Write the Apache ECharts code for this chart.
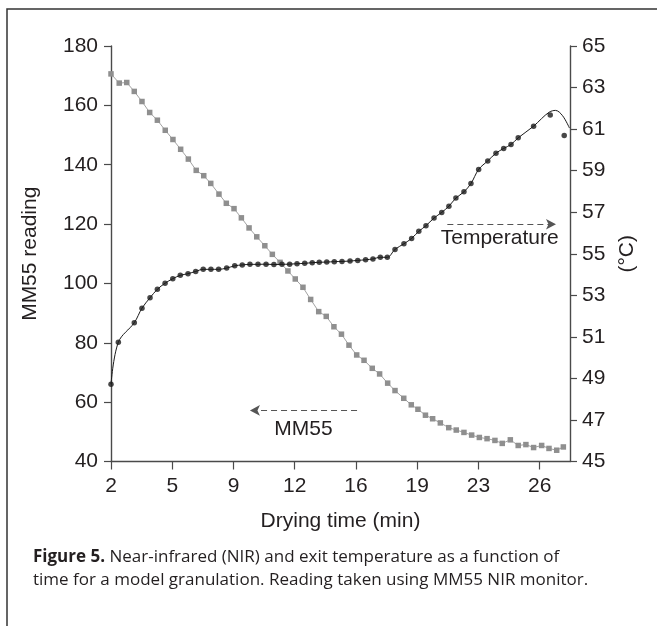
<!DOCTYPE html>
<html>
<head>
<meta charset="utf-8">
<script src="https://cdn.jsdelivr.net/npm/echarts@6/dist/echarts.min.js"></script>
<style>html,body{margin:0;padding:0;background:#fff}#c{width:657px;height:629px}</style>
</head>
<body>
<div id="c"></div>
<script>
// ---- data ----
const xTickValues = [2, 5.5, 9, 12.5, 16, 19.5, 23, 26.5];
const mmTime = [2.00,2.47,2.90,3.33,3.77,4.21,4.65,5.10,5.54,5.98,6.42,6.87,7.30,7.70,8.17,8.59,9.03,9.45,9.89,10.33,10.79,11.22,11.66,12.11,12.53,12.97,13.41,13.87,14.30,14.74,15.17,15.60,16.04,16.46,16.93,17.35,17.81,18.23,18.73,19.16,19.54,19.97,20.38,20.82,21.30,21.73,22.17,22.61,23.05,23.49,23.94,24.36,24.82,25.27,25.71,26.15,26.61,27.03,27.47,27.85];
const mmValue = [170.6,167.5,167.7,164.7,161.3,157.6,155.0,151.6,148.5,145.2,141.9,138.1,136.3,133.7,130.1,127.0,125.2,122.1,118.7,115.7,112.7,109.8,107.1,104.2,101.5,98.7,94.6,90.5,88.9,85.4,82.9,79.2,75.9,74.1,71.4,69.5,66.4,63.9,61.3,59.1,57.6,55.6,54.4,53.0,51.4,50.6,49.8,48.9,48.1,47.7,47.1,46.1,47.3,45.4,45.7,44.7,45.4,44.4,43.8,44.9];
const tempTime = [2.00,2.42,3.33,3.77,4.23,4.65,5.09,5.53,5.96,6.40,6.84,7.27,7.71,8.15,8.61,9.07,9.50,9.94,10.40,10.86,11.31,11.77,12.21,12.63,13.07,13.50,13.90,14.33,14.76,15.20,15.66,16.10,16.55,16.97,17.39,17.79,18.23,18.74,19.18,19.59,20.00,20.46,20.90,21.31,21.71,22.17,22.57,23.01,23.53,24.00,24.44,24.86,25.27,26.15,27.10,27.90];
const tempValue = [48.72,50.74,51.68,52.38,52.88,53.29,53.58,53.80,53.96,54.04,54.15,54.25,54.25,54.25,54.31,54.42,54.46,54.49,54.49,54.50,54.48,54.49,54.50,54.52,54.54,54.57,54.59,54.60,54.62,54.63,54.65,54.68,54.71,54.75,54.83,54.83,55.21,55.48,55.74,56.08,56.35,56.72,56.99,57.29,57.68,57.98,58.38,59.06,59.47,59.84,60.07,60.26,60.58,61.14,61.68,60.69];
// fitted-curve tail (the curve departs from the last points)
const curveTailTime = [26.6, 27.05, 27.4, 27.8, 28.2];
const curveTailValue = [61.5, 61.82, 61.9, 61.65, 61.05];
// annotations
const mmArrow = {from: [16.06, 57.2], to: [9.94, 57.2], label: 'MM55', labelAt: [13.0, 50.9]};
const tempArrow = {from: [21.22, 56.42], to: [27.43, 56.42], label: 'Temperature', labelAt: [24.21, 55.74]};

// ---- build ----
const mmData = mmTime.map((t, i) => [t, mmValue[i]]);
const tempData = tempTime.map((t, i) => [t, tempValue[i]]);
const curveData = tempData.filter(d => d[0] <= 26.2).concat(curveTailTime.map((t, i) => [t, curveTailValue[i]]));

const FONT = 'Liberation Sans';
const CAPFONT = 'Open Sans';
const FS = 21;
const TXT = '#231f20';
const AX = '#4a4a4a';

const chart = echarts.init(document.getElementById('c'), null, {renderer: 'canvas'});
const axisCommon = {
  axisLine: {show: true, lineStyle: {color: AX, width: 1.4}},
  axisTick: {show: true, inside: false, length: 7, lineStyle: {color: AX, width: 1.2}},
  axisLabel: {color: TXT, fontSize: FS, fontFamily: FONT},
  splitLine: {show: false},
  nameTextStyle: {color: TXT, fontSize: FS, fontFamily: FONT}
};
chart.setOption({
  animation: false,
  backgroundColor: '#fff',
  textStyle: {fontFamily: FONT},
  grid: {left: 111, right: 87, top: 46, bottom: 167.5, containLabel: false},
  xAxis: Object.assign({}, axisCommon, {
    type: 'value', min: 2, max: 28.23, interval: 3.5,
    axisTick: Object.assign({}, axisCommon.axisTick, {customValues: xTickValues, length: 8}),
    axisLabel: Object.assign({}, axisCommon.axisLabel, {customValues: xTickValues, margin: 14, formatter: v => String(Math.floor(v))}),
    name: 'Drying time (min)', nameLocation: 'middle', nameGap: 49
  }),
  yAxis: [
    Object.assign({}, axisCommon, {
      type: 'value', position: 'left', min: 40, max: 180, interval: 20,
      axisLabel: Object.assign({}, axisCommon.axisLabel, {margin: 13}),
      name: 'MM55 reading', nameLocation: 'middle', nameGap: 70, nameRotate: 90
    }),
    Object.assign({}, axisCommon, {
      type: 'value', position: 'right', min: 45, max: 65, interval: 2,
      axisLabel: Object.assign({}, axisCommon.axisLabel, {margin: 12}),
      name: '(°C)', nameLocation: 'middle', nameGap: 46, nameRotate: 90
    })
  ],
  series: [
    {
      name: 'MM55', type: 'line', yAxisIndex: 0, data: mmData,
      symbol: 'rect', symbolSize: 5.5, showAllSymbol: true,
      itemStyle: {color: '#8f8f8f'},
      lineStyle: {color: '#a3a3a3', width: 1},
      z: 2,
      markLine: {
        silent: true, symbol: ['none', 'arrow'], symbolSize: [8, 10],
        lineStyle: {color: '#555', width: 1.2, type: [6, 4]},
        label: {show: false},
        data: [[{coord: mmArrow.from}, {coord: mmArrow.to}]]
      },
      markPoint: {
        silent: true, symbol: 'circle', symbolSize: 0,
        label: {show: true, position: 'inside', color: TXT, fontSize: FS, fontFamily: FONT, formatter: mmArrow.label},
        data: [{coord: mmArrow.labelAt}]
      }
    },
    {
      name: 'Temperature curve', type: 'line', yAxisIndex: 1, data: curveData,
      showSymbol: false, smooth: 0.35,
      lineStyle: {color: '#1a1a1a', width: 1},
      z: 3,
      markLine: {
        silent: true, symbol: ['none', 'arrow'], symbolSize: [8, 10],
        lineStyle: {color: '#555', width: 1.2, type: [6, 4]},
        label: {show: false},
        data: [[{coord: tempArrow.from}, {coord: tempArrow.to}]]
      },
      markPoint: {
        silent: true, symbol: 'circle', symbolSize: 0,
        label: {show: true, position: 'inside', color: TXT, fontSize: FS, fontFamily: FONT, formatter: tempArrow.label},
        data: [{coord: tempArrow.labelAt}]
      }
    },
    {
      name: 'Temperature', type: 'scatter', yAxisIndex: 1, data: tempData,
      symbol: 'circle', symbolSize: 5.5,
      itemStyle: {color: '#1a1a1a'},
      z: 4
    }
  ],
  graphic: [
    {type: 'polyline', shape: {points: [[7, 626], [7, 9], [657, 9]]}, style: {stroke: '#333', lineWidth: 1.5, fill: null}, silent: true},
    {type: 'text', left: 33, top: 546, style: {
      text: '{b|Figure 5.} Near-infrared (NIR) and exit temperature as a function of\ntime for a model granulation. Reading taken using MM55 NIR monitor.',
      fontSize: 17, lineHeight: 23, fill: TXT, fontFamily: CAPFONT,
      rich: {b: {fontWeight: 'bold', fontSize: 17, fill: TXT, fontFamily: CAPFONT}}
    }}
  ]
});
</script>
</body>
</html>
